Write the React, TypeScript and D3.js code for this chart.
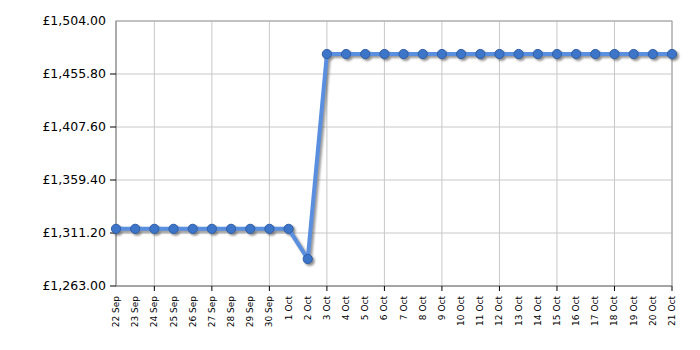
import React from "react";
import * as d3 from "d3";

const dates = [
  "22 Sep","23 Sep","24 Sep","25 Sep","26 Sep","27 Sep","28 Sep","29 Sep","30 Sep",
  "1 Oct","2 Oct","3 Oct","4 Oct","5 Oct","6 Oct","7 Oct","8 Oct","9 Oct","10 Oct",
  "11 Oct","12 Oct","13 Oct","14 Oct","15 Oct","16 Oct","17 Oct","18 Oct","19 Oct","20 Oct","21 Oct",
];
const prices = [
  1314.99,1314.99,1314.99,1314.99,1314.99,1314.99,1314.99,1314.99,1314.99,
  1314.99,1287.59,1473.99,1473.99,1473.99,1473.99,1473.99,1473.99,1473.99,1473.99,
  1473.99,1473.99,1473.99,1473.99,1473.99,1473.99,1473.99,1473.99,1473.99,1473.99,1473.99,
];
const yTicks = [1263.0, 1311.2, 1359.4, 1407.6, 1455.8, 1504.0];

const W = 700, H = 350;
const left = 116, right = 672, top = 21, bottom = 286;

export default function App() {
  const x = d3.scalePoint<number>().domain(dates.map((_, i) => i)).range([left, right]);
  const y = d3.scaleLinear().domain([1263, 1504]).range([bottom, top]);
  const fmt = (v: number) => "£" + d3.format(",.2f")(v);
  const line = d3.line<number>().x((_, i) => x(i)!).y((d) => y(d));
  const path = line(prices)!;
  const gridIdx = dates.map((_, i) => i).filter((i) => i % 3 === 2);
  const font = "Verdana, 'DejaVu Sans', sans-serif";
  return (
    <svg width={W} height={H} style={{ position: "fixed", left: 0, top: 0, display: "block", background: "#fff" }}>
      <defs>
        <filter id="sh" x="-10%" y="-10%" width="130%" height="130%">
          <feGaussianBlur stdDeviation="1" />
        </filter>
      </defs>
      {yTicks.map((t) => (
        <line key={"hg" + t} x1={left} x2={right} y1={y(t)} y2={y(t)} stroke="#c8c8c8" strokeWidth={1} />
      ))}
      {gridIdx.map((i) => (
        <line key={"vg" + i} x1={x(i)} x2={x(i)} y1={top} y2={bottom} stroke="#c8c8c8" strokeWidth={1} />
      ))}
      <rect x={left} y={top} width={right - left} height={bottom - top} fill="none" stroke="#a0a0a0" strokeWidth={1} />
      <line x1={left} x2={left} y1={top} y2={bottom} stroke="#888" />
      <line x1={left} x2={right} y1={bottom} y2={bottom} stroke="#888" />
      {yTicks.map((t, k) => (
        <g key={"yt" + t}>
          {k < yTicks.length - 1 && <line x1={left - 6} x2={left} y1={y(t)} y2={y(t)} stroke="#000" />}
          <text x={106} y={y(t)} dy="0.35em" textAnchor="end" fontFamily={font} fontSize={12.5} fill="#000">
            {fmt(t)}
          </text>
        </g>
      ))}
      {gridIdx.map((i) => (
        <line key={"xt" + i} x1={x(i)} x2={x(i)} y1={bottom} y2={bottom + 5} stroke="#000" />
      ))}
      {dates.map((d, i) => (
        <text
          key={"xl" + i}
          transform={`translate(${x(i)! + 3},${296}) rotate(-90)`}
          textAnchor="end"
          fontFamily={font}
          fontSize={9}
          fill="#000"
        >
          {d}
        </text>
      ))}
      <g transform="translate(2,2)" filter="url(#sh)" opacity={0.55}>
        <path d={path} fill="none" stroke="#444" strokeWidth={4} strokeLinejoin="round" />
        {prices.map((p, i) => (
          <circle key={"s" + i} cx={x(i)} cy={y(p)} r={5} fill="#333" />
        ))}
      </g>
      <path d={path} fill="none" stroke="#5a8fe0" strokeWidth={4} strokeLinejoin="round" />
      {prices.map((p, i) => (
        <circle key={"c" + i} cx={x(i)} cy={y(p)} r={4.6} fill="#3d76c9" stroke="#2f5ea8" strokeWidth={1} />
      ))}
    </svg>
  );
}
